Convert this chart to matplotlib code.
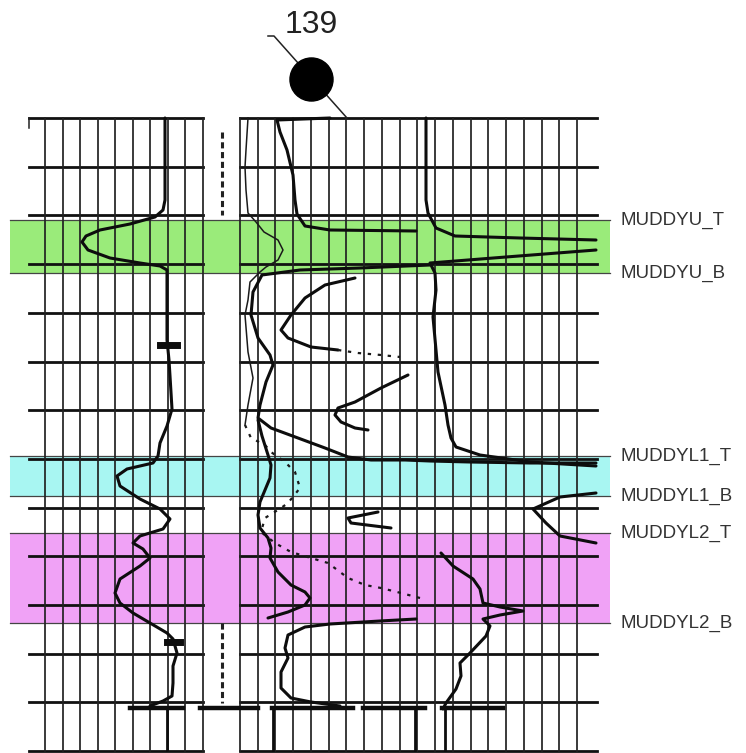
"""
Scanned well log panel with Muddy formation tops
"""

import numpy as np
import matplotlib
matplotlib.use('Agg')
import matplotlib.pyplot as plt

plt.rcParams['font.family'] = ['Liberation Sans', 'DejaVu Sans']

# formation tops (picked on the log, in log rows)
top_names = ['MUDDYU_T', 'MUDDYU_B', 'MUDDYL1_T', 'MUDDYL1_B', 'MUDDYL2_T', 'MUDDYL2_B']
top_rows = [220, 273, 456, 496, 533, 623]
zone_colors = ['#9aeb7a', '#a8f6f2', '#f0a2f6']

well_label = '139'

# track 1 - SP
sp_x = [165, 165, 165, 163, 155, 130, 100, 86, 82, 88,
        110, 140, 160, 167, 167, 167, 169, 170, 172, 167,
        160, 158, 153, 127, 117, 120, 140, 160, 170, 163,
        140, 133, 143, 150, 140, 120, 115, 120, 133, 150,
        167, 173, 177, 173, 173, 172, 163, 150]
sp_row = [118, 160, 200, 210, 217, 224, 230, 236, 242, 250,
          258, 263, 266, 270, 300, 340, 360, 376, 409, 426,
          443, 456, 463, 469, 476, 486, 499, 509, 519, 529,
          536, 543, 549, 558, 566, 579, 593, 603, 613, 623,
          633, 639, 653, 666, 683, 696, 701, 706]

# track 2 - shallow resistivity (thin)
sh_x = [248, 246, 245, 246, 248, 256, 264, 278, 283, 278, 266, 260,
        250, 248, 245, 248, 253, 248, 245]
sh_row = [118, 150, 167, 190, 213, 222, 232, 240, 250, 260, 267, 272,
          282, 300, 315, 352, 378, 405, 425]
sh_dot_x = [245, 251, 265, 271, 285, 295, 300, 288, 281, 265, 261,
            275, 291, 311, 328, 348, 365, 381, 401, 420]
sh_dot_row = [425, 438, 445, 452, 462, 472, 488, 503, 508, 518, 532,
              543, 552, 558, 563, 578, 585, 588, 593, 598]

# track 2 - medium resistivity (thick)
md_x = [330, 277, 280, 287, 293, 295, 297, 305, 330, 416]
md_row = [118, 120, 132, 150, 175, 200, 214, 226, 230, 231]
md2_x = [430, 360, 300, 262, 253, 251, 258, 270, 273, 266, 260, 258,
         271, 298, 325, 348, 371, 405, 430, 470, 530, 596]
md2_row = [265, 268, 270, 275, 292, 315, 338, 355, 365, 382, 405, 418,
           428, 438, 448, 457, 460, 460, 461, 462, 463, 463]
md3_x = [258, 262, 268, 271, 270, 265, 260, 258, 260, 268, 271, 270,
         278, 291, 305, 310, 305, 288, 268]
md3_row = [420, 436, 455, 465, 478, 490, 502, 515, 528, 538, 548, 558,
           572, 585, 592, 598, 605, 612, 618]
md4_x = [416, 380, 330, 305, 288, 285, 288, 281, 281, 291, 311, 340]
md4_row = [619, 621, 624, 627, 635, 648, 658, 672, 688, 698, 702, 706]

# track 2 - wrapped resistivity pieces
c_x = [355, 325, 305, 291, 281, 288, 311, 338]
c_row = [278, 285, 298, 315, 330, 338, 347, 350]
c_dot_x = [338, 358, 381, 400]
c_dot_row = [350, 353, 355, 357]
v1_x = [408, 381, 355, 338, 335, 341, 355, 368]
v1_row = [375, 388, 402, 408, 415, 422, 428, 430]
v2_x = [378, 348, 351, 391]
v2_row = [512, 518, 523, 528]

# track 2 - deep resistivity (right side)
dp_x = [426, 426, 428, 436, 455, 520, 596]
dp_row = [118, 200, 213, 228, 236, 238, 240]
dp2_x = [596, 506, 430, 435, 436, 433, 436, 438, 445, 448, 451, 456,
         480, 530, 596]
dp2_row = [250, 257, 263, 273, 290, 317, 350, 372, 405, 425, 438, 447,
           455, 462, 466]
dp3_x = [596, 560, 533, 546, 560, 596]
dp3_row = [493, 497, 509, 523, 536, 543]
dp4_x = [441, 453, 473, 480, 483, 500, 523, 500, 483, 490, 486, 470,
         460, 461, 456, 446, 443]
dp4_row = [553, 566, 579, 589, 603, 607, 611, 615, 619, 626, 636, 653,
           663, 676, 689, 703, 709]

# depth track ticks and bottom tool marks
depth_dash_rows = [(132, 215), (623, 703)]
tool_marks = [(130, 183), (200, 258), (272, 353), (363, 425), (442, 503)]
tool_stubs = [167, 273, 415, 445]

fig = plt.figure(figsize=(7.46, 7.53), dpi=100)
ax = fig.add_axes([0, 0, 1, 1])
ax.set_xlim(0, 746)
ax.set_ylim(753, 0)
ax.axis('off')

# zones
for i, col in enumerate(zone_colors):
    ax.axhspan(top_rows[2 * i], top_rows[2 * i + 1], xmin=10 / 746, xmax=610 / 746,
               color=col, zorder=0, lw=0)
for name, row in zip(top_names, top_rows):
    ax.plot([10, 610], [row, row], color='#444444', lw=0.9, zorder=1)
    ax.text(621, row, name, fontsize=13.5, color='#333333', va='center', ha='left')

# log grid
grid_rows = 118 + 48.7 * np.arange(14)
t1_cols = np.linspace(45, 203, 10)
t2_cols = np.linspace(240, 577, 20)
for r in grid_rows:
    ax.plot([29, 203], [r, r], color='#111111', lw=2.0, zorder=2)
    ax.plot([240, 597], [r, r], color='#111111', lw=2.0, zorder=2)
for c in np.concatenate([t1_cols, t2_cols]):
    ax.plot([c, c], [118, 751], color='#222222', lw=1.25, zorder=2)
ax.plot([29, 29], [118, 128], color='#222222', lw=1.1, zorder=2)

# curves
thick = dict(color='#0d0d0d', lw=2.2, zorder=3, solid_capstyle='round')
thin = dict(color='#1a1a1a', lw=1.1, zorder=3)
dotted = dict(color='#1a1a1a', lw=1.6, ls=(0, (1.5, 3)), zorder=3)

ax.plot(sp_x, sp_row, **thick)
ax.plot([160, 177], [345, 345], color='#0d0d0d', lw=5, zorder=3)
ax.plot([167, 180], [642, 642], color='#0d0d0d', lw=5, zorder=3)

ax.plot(sh_x, sh_row, **thin)
ax.plot(sh_dot_x, sh_dot_row, **dotted)
for xs, ys in [(md_x, md_row), (md2_x, md2_row), (md3_x, md3_row), (md4_x, md4_row),
               (c_x, c_row), (v1_x, v1_row), (v2_x, v2_row),
               (dp_x, dp_row), (dp2_x, dp2_row), (dp3_x, dp3_row), (dp4_x, dp4_row)]:
    ax.plot(xs, ys, **thick)
ax.plot(c_dot_x, c_dot_row, **dotted)

for r0, r1 in depth_dash_rows:
    ax.plot([222, 222], [r0, r1], color='#222222', lw=2.2, ls=(0, (2, 1.2)), zorder=3)
for x0, x1 in tool_marks:
    ax.plot([x0, x1], [708, 708], color='#0d0d0d', lw=3.2, zorder=3)
for x in tool_stubs:
    ax.plot([x, x], [708, 750], color='#0d0d0d', lw=2.0, zorder=3)

# well marker
ax.plot([268, 274, 347], [36, 36, 118], color='#222222', lw=1.1, zorder=4)
ax.plot(311, 79, 'o', ms=31, color='black', zorder=5)
ax.text(285, 25, well_label, fontsize=23, color='#222222', va='center', ha='left')

fig.savefig('out.png', dpi=100)
plt.close(fig)
